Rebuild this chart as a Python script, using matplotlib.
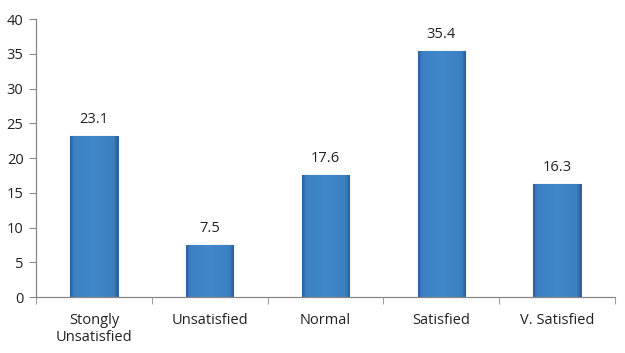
import numpy as np
import matplotlib.pyplot as plt
from matplotlib.colors import LinearSegmentedColormap

categories = ['Stongly\nUnsatisfied', 'Unsatisfied', 'Normal', 'Satisfied', 'V. Satisfied']
values = [23.1, 7.5, 17.6, 35.4, 16.3]

plt.rcParams['font.family'] = ['Open Sans', 'DejaVu Sans']

fig = plt.figure(figsize=(6.25, 3.53), dpi=100)
ax = fig.add_axes([0.0576, 0.1586, 0.9264, 0.7874])

x = np.arange(len(categories))
bars = ax.bar(x, values, width=0.41, color='#3f86c9', edgecolor='#2f67a0', linewidth=0.8, zorder=2)

# horizontal shading to mimic the bevelled bars
cmap = LinearSegmentedColormap.from_list(
    'bev', [(0.0, '#2c62a0'), (0.08, '#3b80c2'), (0.5, '#4189cc'), (0.92, '#3b7fc0'), (1.0, '#2a5f9b')])
grad = np.linspace(0, 1, 64).reshape(1, -1)
for b in bars:
    x0, y0 = b.get_x(), b.get_y()
    im = ax.imshow(grad, cmap=cmap, aspect='auto', zorder=2.5,
                   extent=[x0, x0 + b.get_width(), y0, y0 + b.get_height()])
    im.set_clip_path(b)

for xi, v in zip(x, values):
    ax.text(xi, v + 1.3, f'{v}', ha='center', va='bottom', fontsize=10.5, color='#222222')

ax.set_xlim(-0.5, len(categories) - 0.5)
ax.set_ylim(0, 40)
ax.set_yticks(np.arange(0, 41, 5))
ax.set_xticks(x)
ax.set_xticklabels(categories, fontsize=10.5, color='#222222', linespacing=1.15)
ax.set_xticks(np.arange(-0.5, len(categories)), minor=True)
ax.tick_params(axis='x', which='major', length=0, pad=11.5)
ax.tick_params(axis='x', which='minor', length=5, color='#888888', direction='out')
ax.tick_params(axis='y', length=5, color='#888888', labelsize=10.5, labelcolor='#222222', pad=4)

for s in ['top', 'right']:
    ax.spines[s].set_visible(False)
for s in ['left', 'bottom']:
    ax.spines[s].set_color('#888888')
    ax.spines[s].set_linewidth(0.9)

fig.savefig('out.png', dpi=100)
